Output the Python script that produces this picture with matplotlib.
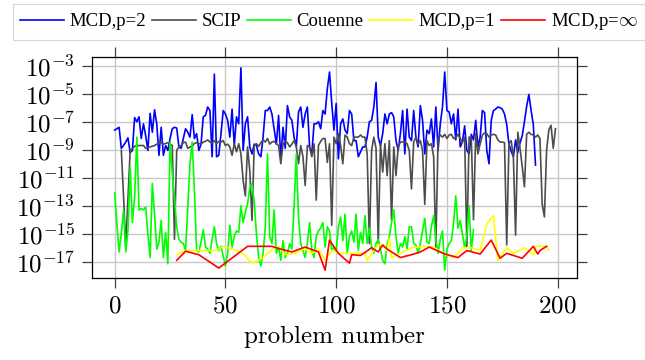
import numpy as np
import matplotlib
matplotlib.use("Agg")
import matplotlib.pyplot as plt
from matplotlib.ticker import FixedLocator, FuncFormatter, NullLocator

plt.rcParams['mathtext.fontset'] = 'cm'
plt.rcParams['font.family'] = ['cmr10', 'DejaVu Serif']
plt.rcParams['axes.unicode_minus'] = False

# ---- data: log10 of the reported values, one per problem number ----
mcd2_start = 0
mcd2_log = [
    -7.6, -7.5, -7.4, -8.9, -8.7, -8.45, -8.15, -9.2, -9.05, -6.7,
    -7.0, -6.65, -8.2, -7.15, -8.0, -9.05, -6.4, -7.75, -6.15, -7.15,
    -9.4, -7.4, -9.4, -8.7, -9.05, -8.2, -7.5, -7.4, -7.45, -8.8,
    -8.9, -8.2, -7.5, -7.75, -8.1, -6.5, -8.2, -7.85, -9.05, -8.6,
    -6.65, -6.55, -5.95, -6.2, -9.5, -3.6, -9.5, -9.4, -7.85, -6.2,
    -6.45, -6.9, -8.1, -6.1, -8.7, -6.65, -7.15, -3.15, -9.05, -7.15,
    -6.65, -8.8, -9.3, -8.6, -8.7, -9.3, -9.5, -8.1, -6.2, -6.2,
    -5.95, -6.45, -7.5, -8.6, -6.55, -9.65, -7.4, -8.9, -5.85, -6.65,
    -6.9, -8.1, -8.8, -6.3, -5.95, -7.4, -6.45, -5.95, -8.8, -9.3,
    -7.15, -7.15, -7.0, -7.5, -6.2, -6.45, -4.65, -3.45, -5.7, -7.6,
    -5.7, -9.65, -7.15, -6.8, -7.6, -7.85, -6.2, -6.45, -8.35, -8.35,
    -9.5, -9.15, -8.8, -8.8, -8.1, -7.0, -6.9, -5.95, -4.2, -8.1,
    -8.7, -7.85, -6.45, -7.15, -6.45, -6.35, -6.65, -8.35, -9.05, -7.85,
    -6.2, -9.3, -6.1, -8.1, -8.35, -6.2, -8.1, -8.8, -5.85, -6.9,
    -9.3, -7.6, -7.85, -6.8, -8.8, -5.95, -9.05, -7.15, -5.95, -3.45,
    -6.2, -6.3, -7.15, -6.45, -8.3, -6.1, -8.8, -8.45, -7.3, -9.05,
    -9.3, -7.9, -8.3, -6.9, -8.8, -8.1, -6.2, -6.35, -9.05, -10.0,
    -6.9, -6.2, -6.1, -5.95, -6.0, -6.1, -6.45, -7.2, -8.6, -9.1,
    -9.5, -8.3, -9.2, -8.5, -8.0, -7.0, -5.9, -5.05, -6.2, -7.2,
    -10.1,
]

scip_start = 3
scip_log = [
    -9.05, -12.3, -15.95, -12.5, -9.05, -8.95, -8.75, -8.7, -8.7, -8.7,
    -8.7, -8.9, -8.85, -8.8, -8.75, -8.7, -8.6, -8.55, -8.5, -8.6,
    -8.55, -8.5, -8.6, -8.7, -15.4, -9.05, -8.8, -8.7, -8.5, -8.45,
    -8.9, -8.8, -8.75, -8.55, -8.5, -8.55, -8.6, -8.45, -8.4, -8.3,
    -8.45, -8.5, -8.35, -8.57, -8.4, -8.45, -8.35, -8.7, -8.6, -8.8,
    -9.4, -8.57, -9.15, -8.57, -9.3, -11.2, -12.3, -8.8, -10.5, -14.05,
    -8.7, -8.57, -8.76, -8.5, -8.3, -8.45, -8.2, -8.6, -8.45, -8.4,
    -8.57, -8.7, -10.0, -8.6, -8.4, -8.5, -8.8, -8.6, -8.35, -8.76,
    -10.0, -8.7, -9.5, -11.55, -8.7, -8.8, -9.5, -8.57, -12.6, -8.7,
    -8.4, -8.2, -8.2, -9.9, -8.57, -14.4, -8.1, -8.57, -7.85, -8.7,
    -10.0, -7.95, -8.1, -8.57, -8.7, -8.1, -8.1, -8.1, -7.95, -8.1,
    -8.1, -9.3, -15.7, -9.05, -8.1, -8.9, -15.7, -8.57, -10.6, -8.57,
    -10.85, -8.35, -14.05, -8.8, -10.85, -8.8, -8.45, -8.45, -8.45, -8.57,
    -9.05, -11.8, -8.45, -8.1, -8.6, -8.35, -9.05, -12.9, -8.35, -8.7,
    -8.57, -9.5, -16.0, -8.2, -7.95, -8.1, -7.9, -8.2, -7.95, -7.9,
    -8.2, -8.15, -7.9, -8.2, -8.45, -8.1, -15.9, -8.1, -8.1, -14.0,
    -7.85, -9.3, -8.57, -7.95, -7.8, -7.85, -8.1, -7.95, -7.9, -7.95,
    -8.3, -8.45, -8.45, -8.5, -15.8, -8.57, -8.35, -9.5, -15.1, -7.75,
    -8.9, -10.2, -11.65, -7.9, -7.75, -7.9, -7.95, -8.1, -7.95, -8.2,
    -12.85, -13.8, -9.05, -7.6, -7.25, -8.9, -7.5,
]

couenne_start = 0
couenne_log = [
    -12.1, -14.3, -16.3, -15.0, -13.3, -16.3, -14.8, -10.25, -14.2, -12.4,
    -8.1, -13.3, -13.2, -13.3, -13.1, -15.0, -16.7, -11.4, -13.6, -16.1,
    -15.6, -14.05, -16.7, -14.9, -17.15, -8.45, -10.7, -12.4, -14.5, -15.4,
    -15.6, -15.7, -16.2, -13.1, -10.0, -8.45, -11.9, -16.2, -16.3, -15.6,
    -14.7, -15.95, -16.1, -16.4, -15.4, -14.5, -15.7, -16.2, -15.9, -16.6,
    -17.3, -16.4, -14.4, -15.95, -15.2, -14.8, -14.9, -13.0, -14.2, -13.45,
    -12.86, -11.7, -11.4, -12.74, -15.0, -16.7, -17.3, -16.4, -14.5, -9.3,
    -15.2, -15.7, -13.3, -16.4, -15.95, -16.9, -15.5, -16.7, -16.4, -15.7,
    -16.1, -13.0, -9.3, -13.8, -15.7, -16.2, -16.7, -15.7, -14.2, -16.2,
    -16.7, -15.2, -14.8, -14.6, -14.2, -15.95, -14.5, -14.8, -16.2, -15.95,
    -16.3, -14.5, -13.8, -15.5, -13.6, -16.4, -15.2, -14.8, -15.6, -13.6,
    -16.2, -14.9, -15.7, -13.7, -15.7, -14.6, -15.95, -16.4, -15.7, -15.4,
    -16.1, -16.9, -17.15, -15.8, -15.2, -14.2, -13.3, -15.2, -16.4, -15.7,
    -15.95, -15.2, -16.1, -14.5, -14.5, -15.7, -15.8, -16.4, -15.7, -14.8,
    -13.9, -15.6, -15.7, -14.5, -13.7, -15.4, -16.4, -15.4, -14.8, -17.6,
    -16.1, -15.7, -15.5, -14.3, -12.3, -14.6, -14.05, -15.0, -16.0, -15.2,
    -13.0, -16.2, -14.7,
]

mcd1_x = [28, 32, 46, 49, 57, 59, 62, 67, 72, 74, 77, 81, 86, 89, 92, 95, 98,
          102, 107, 113, 114, 117, 119, 121, 123, 124, 125, 129, 134, 140, 144,
          148, 153, 157, 161, 165, 168, 171, 173, 177, 180, 185, 189, 190, 195, 196]
mcd1_log = [-16.5, -16.2, -16.2, -15.9, -16.3, -16.6, -17.1, -16.7, -16.0, -15.9,
            -16.5, -16.4, -16.05, -16.4, -16.1, -16.9, -16.2, -16.4, -16.4, -16.4,
            -16.9, -16.2, -15.75, -15.9, -16.2, -15.3, -16.7, -16.4, -16.0, -15.9,
            -15.95, -16.4, -16.7, -16.0, -16.0, -16.2, -14.3, -13.7, -16.9, -16.0,
            -16.4, -16.0, -16.5, -15.9, -15.9, -16.15]

mcdinf_x = [28, 32, 38, 47, 60, 71, 75, 80, 86, 92, 95, 97, 101, 106, 107, 111,
            116, 119, 121, 123, 126, 129, 134, 138, 142, 149, 155, 159, 165, 170,
            174, 177, 184, 189, 191, 192, 195]
mcdinf_log = [-16.9, -16.25, -16.5, -17.45, -15.9, -15.9, -16.1, -16.3, -15.95, -16.3,
              -17.6, -15.45, -16.4, -17.1, -16.5, -16.55, -16.0, -16.3, -15.8, -16.1,
              -16.4, -16.7, -16.5, -16.3, -15.95, -16.45, -16.7, -16.2, -16.45, -15.45,
              -16.75, -16.4, -16.75, -15.9, -16.45, -16.2, -15.9]

series = [
    ("MCD,p=2", np.arange(mcd2_start, mcd2_start + len(mcd2_log)), mcd2_log, "#0000ff"),
    ("SCIP", np.arange(scip_start, scip_start + len(scip_log)), scip_log, "#4d4d4d"),
    ("Couenne", np.arange(couenne_start, couenne_start + len(couenne_log)), couenne_log, "#00ff00"),
    ("MCD,p=1", np.array(mcd1_x), mcd1_log, "#ffff00"),
    (r"MCD,p=$\infty$", np.array(mcdinf_x), mcdinf_log, "#ff0000"),
]

x_ticks = [0, 50, 100, 150, 200]
y_tick_exps = [-3, -5, -7, -9, -11, -13, -15, -17]

fig = plt.figure(figsize=(6.45, 3.6), dpi=100)
ax = fig.add_axes([0.1431, 0.2286, 0.7519, 0.6122])

handles = []
for label, xs, logs, color in series:
    h, = ax.plot(xs, 10.0 ** np.array(logs), color=color, lw=1.2, label=label)
    handles.append(h)

ax.set_yscale('log')
ax.set_xlim(-10.1, 208.85)
ax.set_ylim(10 ** -18.14, 10 ** -2.4)

ax.xaxis.set_major_locator(FixedLocator(x_ticks))
ax.yaxis.set_major_locator(FixedLocator([10.0 ** e for e in y_tick_exps]))
ax.yaxis.set_minor_locator(NullLocator())
ax.xaxis.set_minor_locator(NullLocator())
ax.yaxis.set_major_formatter(FuncFormatter(lambda v, p: r'$10^{%d}$' % int(round(np.log10(v)))))
ax.xaxis.set_major_formatter(FuncFormatter(lambda v, p: r'$%d$' % int(v)))

ax.grid(True, color='#c8c8c8', lw=1.0)
ax.set_axisbelow(True)
ax.tick_params(axis='both', which='major', direction='out', length=7.5, width=0.9,
               color='#404040', top=True, right=True, labelsize=18, pad=5)
for s in ax.spines.values():
    s.set_linewidth(0.9)
    s.set_color('black')

ax.set_xlabel('problem number', fontsize=18, labelpad=6)

leg = fig.legend(handles=handles, loc='upper center', bbox_to_anchor=(0.51, 0.99),
                 ncol=5, frameon=True, fancybox=False,
                 prop={'family': ['Liberation Serif', 'DejaVu Serif'], 'size': 13.5},
                 handlelength=2.35, handletextpad=0.3, columnspacing=0.3,
                 borderpad=0.4, borderaxespad=0.0)
leg.get_frame().set_edgecolor('#cccccc')
leg.get_frame().set_linewidth(0.8)

fig.savefig('out.png', dpi=100)
